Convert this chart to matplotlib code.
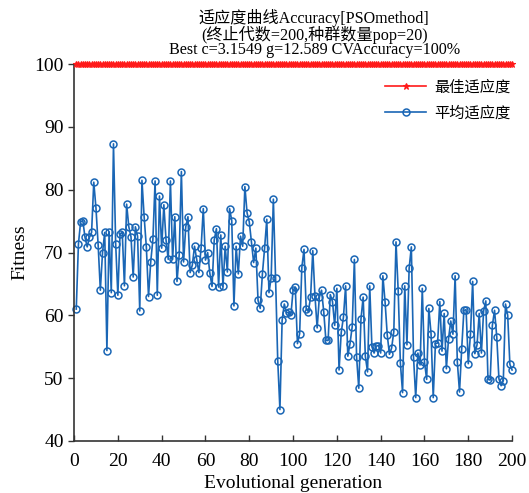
import matplotlib
matplotlib.use("Agg")
import matplotlib.pyplot as plt
import numpy as np

plt.rcParams['font.family'] = ['Liberation Serif', 'Noto Sans CJK SC', 'DejaVu Sans']

generations = list(range(1, 201))
avg_fitness = [
    61.0, 71.4, 74.9, 75.1, 72.4, 70.9, 72.4, 73.2, 81.2, 77.1, 71.2, 64.0, 70.0, 73.2, 54.4, 73.3, 63.6, 87.3, 71.4, 63.2, 73.0, 73.2, 64.7, 77.7,
    74.1, 72.5, 66.1, 74.1, 72.6, 60.7, 81.5, 75.7, 70.9, 63.0, 68.5, 72.1, 81.4, 63.2, 79.0, 70.7, 77.6, 72.0, 68.9, 81.4, 68.9, 75.7, 65.4, 69.6, 82.9,
    68.5, 74.1, 75.7, 66.8, 68.0, 71.0, 68.9, 66.8, 70.7, 77.0, 68.8, 70.0, 66.7, 64.6, 72.0, 73.8, 64.5, 72.8, 64.6, 71.0, 66.9, 77.0, 75.1, 61.5,
    71.0, 66.6, 72.6, 71.0, 80.5, 76.3, 74.9, 71.7, 68.4, 70.7, 62.4, 61.1, 66.6, 70.7, 75.3, 63.6, 66.0, 78.5, 66.0, 52.8,
    45.0, 59.2, 61.8, 60.4, 60.5, 60.0, 64.0, 64.5, 55.5, 57.1, 67.6, 70.5, 61.0, 60.6, 62.9, 70.3, 63.1, 58.0, 62.9, 64.0, 60.6, 56.0, 56.0, 63.3, 62.2, 58.4, 64.3, 51.3, 57.3, 59.7, 64.7,
    53.5, 55.5, 58.2, 68.9, 53.4, 48.4, 59.4, 62.9, 53.5, 51.0, 64.7, 55.0, 54.0, 55.1, 55.2, 54.0, 66.3, 62.2, 56.9, 53.8, 54.8, 57.4, 71.7, 63.9, 52.4, 47.7, 64.7,
    55.3, 67.5, 70.9, 53.4, 46.9, 54.0, 52.1, 64.3, 52.6, 49.8, 61.1, 57.1, 46.9, 55.5, 55.6, 62.2, 54.3, 60.3, 51.5, 56.3, 59.1, 57.0, 66.3, 52.6, 47.8,
    54.7, 60.8, 60.9, 52.3, 57.0, 65.4, 53.9, 55.3, 60.3, 54.0, 60.7, 62.3, 49.8, 49.7, 58.4, 60.8, 56.6, 49.9, 48.8, 49.6, 61.8, 60.0, 52.2, 51.3,
]
best_fitness = [100.0] * 200

title_lines = ["适应度曲线Accuracy[PSOmethod]",
               "(终止代数=200,种群数量pop=20)",
               "Best c=3.1549 g=12.589 CVAccuracy=100%"]
legend_labels = ["最佳适应度", "平均适应度"]
x_ticks = [0, 20, 40, 60, 80, 100, 120, 140, 160, 180, 200]
y_ticks = [40, 50, 60, 70, 80, 90, 100]

fig = plt.figure(figsize=(5.29, 4.93), dpi=100)
ax = fig.add_axes([0.140, 0.1055, 0.828, 0.7645])

blue = '#1a66b5'
red = '#ff1a1a'
n = len(avg_fitness)
ax.plot(generations[:n], best_fitness[:n], color=red, lw=1.2, marker='*',
        markersize=5, markeredgewidth=0.8, label=legend_labels[0], clip_on=False, zorder=3)
ax.plot(generations[:n], avg_fitness, color=blue, lw=1.2, marker='o',
        markersize=5, markerfacecolor='none', markeredgewidth=1.1,
        label=legend_labels[1], clip_on=False, zorder=2)

ax.set_xlim(0, 200)
ax.set_ylim(40, 100)
ax.set_xticks(x_ticks)
ax.set_yticks(y_ticks)
ax.tick_params(axis='both', labelsize=14, color='#333333', length=4, width=1)
ax.tick_params(axis='x', direction='in', pad=9)
ax.tick_params(axis='y', direction='out')
for s in ['top', 'right']:
    ax.spines[s].set_visible(False)
for s in ['left', 'bottom']:
    ax.spines[s].set_color('#333333')
    ax.spines[s].set_linewidth(1.2)

ax.set_xlabel("Evolutional generation", fontsize=14, labelpad=3)
ax.set_ylabel("Fitness", fontsize=14, labelpad=4)

leg = ax.legend(loc='upper right', bbox_to_anchor=(1.02, 0.985), frameon=False,
                fontsize=11, handlelength=2.7, handletextpad=0.5,
                labelspacing=0.75, borderaxespad=0.3)

fig.text(0.594, 0.982, "\n".join(title_lines), ha='center', va='top',
         fontsize=11.6, linespacing=0.9)

fig.savefig("out.png", dpi=100, facecolor='white')
